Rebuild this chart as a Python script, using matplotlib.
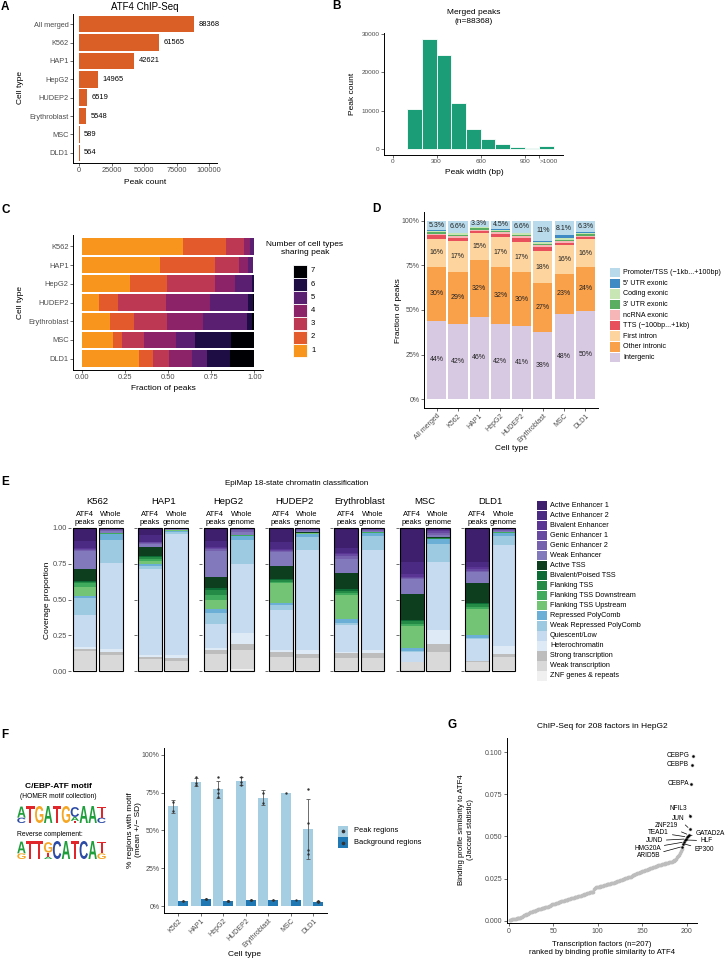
import numpy as np
import matplotlib
matplotlib.use("Agg")
import matplotlib.pyplot as plt
from matplotlib.patches import Rectangle, PathPatch
from matplotlib.textpath import TextPath
from matplotlib.font_manager import FontProperties
from matplotlib.transforms import Affine2D

plt.rcParams['font.family'] = ['Liberation Sans', 'DejaVu Sans']

# ─── data ─────────────────────────────────────────────────────────────────────
# A: peak counts
a_cells = ["All merged", "K562", "HAP1", "HepG2", "HUDEP2", "Erythroblast", "MSC", "DLD1"]
a_counts = [88368, 61565, 42621, 14965, 6519, 5548, 589, 564]

# B: peak width histogram (100 bp bins, last bin = >1000)
b_bin_left = [100, 200, 300, 400, 500, 600, 700, 800, 900, 1000]
b_counts = [10600, 28700, 24600, 12000, 5300, 2700, 1300, 650, 350, 750]

# C: fraction of peaks shared by n cell types (columns n = 1..7)
c_cells = ["K562", "HAP1", "HepG2", "HUDEP2", "Erythroblast", "MSC", "DLD1"]
c_fracs = [
    [0.585, 0.249, 0.106, 0.035, 0.020, 0.004, 0.001],
    [0.454, 0.318, 0.139, 0.050, 0.034, 0.005, 0.000],
    [0.278, 0.214, 0.280, 0.118, 0.096, 0.012, 0.002],
    [0.098, 0.114, 0.274, 0.255, 0.220, 0.029, 0.010],
    [0.164, 0.139, 0.189, 0.213, 0.251, 0.030, 0.014],
    [0.180, 0.056, 0.125, 0.185, 0.110, 0.209, 0.135],
    [0.330, 0.085, 0.091, 0.133, 0.089, 0.131, 0.141],
]

# D: genomic annotation of peaks
d_cells = a_cells
d_promoter = [0.053, 0.066, 0.033, 0.045, 0.066, 0.112, 0.081, 0.063]
d_utr5 = [0.004, 0.004, 0.003, 0.004, 0.004, 0.006, 0.016, 0.005]
d_coding = [0.008, 0.008, 0.006, 0.008, 0.008, 0.010, 0.010, 0.008]
d_utr3 = [0.007, 0.008, 0.007, 0.008, 0.008, 0.010, 0.008, 0.007]
d_ncrna = [0.009, 0.009, 0.007, 0.010, 0.010, 0.010, 0.010, 0.006]
d_tts = [0.018, 0.020, 0.012, 0.018, 0.023, 0.022, 0.013, 0.012]
d_first_intron = [0.162, 0.172, 0.152, 0.168, 0.170, 0.180, 0.158, 0.160]
d_other_intronic = [0.298, 0.290, 0.318, 0.318, 0.302, 0.272, 0.228, 0.242]
d_intergenic = [0.441, 0.423, 0.462, 0.421, 0.409, 0.378, 0.476, 0.497]

# E: EpiMap 18-state coverage, per cell [ATF4 peaks, whole genome], legend order
e_states = ["Active Enhancer 1", "Active Enhancer 2", "Bivalent Enhancer", "Genic Enhancer 1",
            "Genic Enhancer 2", "Weak Enhancer", "Active TSS", "Bivalent/Poised TSS",
            "Flanking TSS", "Flanking TSS Downstream", "Flanking TSS Upstream",
            "Repressed PolyComb", "Weak Repressed PolyComb", "Quiescent/Low",
            "Heterochromatin", "Strong transcription", "Weak transcription", "ZNF genes & repeats"]
e_cells = ["K562", "HAP1", "HepG2", "HUDEP2", "Erythroblast", "MSC", "DLD1"]
e_k562 = [[0.094, 0.046, 0.010, 0.005, 0.005, 0.126, 0.084, 0.005, 0.011, 0.024, 0.065, 0.017, 0.117, 0.226, 0.010, 0.015, 0.135, 0.005],
          [0.003, 0.004, 0.002, 0.004, 0.006, 0.014, 0.002, 0.001, 0.002, 0.002, 0.003, 0.044, 0.159, 0.597, 0.024, 0.023, 0.105, 0.005]]
e_hap1 = [[0.050, 0.045, 0.006, 0.006, 0.006, 0.022, 0.058, 0.008, 0.014, 0.014, 0.026, 0.012, 0.020, 0.600, 0.015, 0.016, 0.077, 0.005],
          [0.002, 0.002, 0.001, 0.002, 0.002, 0.004, 0.001, 0.001, 0.001, 0.001, 0.002, 0.008, 0.015, 0.848, 0.018, 0.020, 0.067, 0.005]]
e_hepg2 = [[0.094, 0.040, 0.007, 0.007, 0.010, 0.186, 0.078, 0.012, 0.034, 0.035, 0.066, 0.024, 0.079, 0.166, 0.012, 0.028, 0.117, 0.005],
           [0.003, 0.004, 0.002, 0.008, 0.012, 0.018, 0.002, 0.001, 0.002, 0.001, 0.001, 0.028, 0.168, 0.483, 0.080, 0.042, 0.133, 0.012]]
e_hudep2 = [[0.100, 0.045, 0.008, 0.007, 0.010, 0.095, 0.093, 0.008, 0.010, 0.010, 0.141, 0.012, 0.035, 0.281, 0.012, 0.035, 0.093, 0.005],
            [0.004, 0.004, 0.002, 0.006, 0.006, 0.008, 0.002, 0.001, 0.002, 0.002, 0.003, 0.020, 0.092, 0.703, 0.028, 0.023, 0.089, 0.005]]
e_eryth = [[0.142, 0.030, 0.012, 0.012, 0.020, 0.101, 0.112, 0.010, 0.015, 0.015, 0.170, 0.024, 0.015, 0.190, 0.008, 0.031, 0.088, 0.005],
           [0.004, 0.004, 0.002, 0.004, 0.005, 0.006, 0.002, 0.001, 0.002, 0.002, 0.003, 0.020, 0.099, 0.699, 0.023, 0.035, 0.084, 0.005]]
e_msc = [[0.235, 0.090, 0.015, 0.010, 0.010, 0.104, 0.179, 0.010, 0.020, 0.012, 0.156, 0.018, 0.010, 0.066, 0.000, 0.005, 0.058, 0.002],
         [0.008, 0.008, 0.003, 0.015, 0.012, 0.015, 0.006, 0.004, 0.003, 0.001, 0.002, 0.037, 0.121, 0.478, 0.098, 0.054, 0.130, 0.005]]
e_dld1 = [[0.235, 0.040, 0.014, 0.010, 0.010, 0.073, 0.140, 0.010, 0.022, 0.015, 0.179, 0.021, 0.010, 0.151, 0.000, 0.005, 0.063, 0.002],
          [0.004, 0.004, 0.002, 0.005, 0.005, 0.005, 0.002, 0.001, 0.002, 0.002, 0.003, 0.020, 0.065, 0.705, 0.056, 0.023, 0.091, 0.005]]

# F: motif logo (letter, height) stacked bottom-up, and % regions with motif
logo_fwd = [[("C", 0.30), ("A", 0.62)], [("T", 0.95)], [("G", 0.95)], [("A", 0.95)], [("T", 0.95)],
            [("G", 0.95)], [("T", 0.12), ("A", 0.22), ("C", 0.55)], [("A", 0.95)], [("A", 0.95)],
            [("C", 0.30), ("T", 0.62)]]
logo_rev = [[("G", 0.30), ("A", 0.62)], [("T", 0.95)], [("T", 0.95)], [("A", 0.12), ("T", 0.22), ("G", 0.55)],
            [("C", 0.95)], [("A", 0.95)], [("T", 0.95)], [("C", 0.95)], [("A", 0.95)],
            [("G", 0.30), ("T", 0.62)]]
f_cells = ["K562", "HAP1", "HepG2", "HUDEP2", "Erythroblast", "MSC", "DLD1"]
f_peak_reps = [[0.69, 0.63], [0.85, 0.81, 0.80], [0.85, 0.77, 0.745, 0.72], [0.855, 0.80, 0.82],
               [0.75, 0.68], [0.75], [0.77, 0.55, 0.37, 0.345]]
f_bg_reps = [[0.035, 0.033], [0.047, 0.045, 0.044], [0.036, 0.034, 0.033, 0.035], [0.040, 0.038, 0.039],
             [0.040, 0.039], [0.040], [0.030, 0.028, 0.029, 0.031]]

# G: Jaccard similarity of 207 HepG2 factors to ATF4, sorted
g_values = [
    0.0002, 0.0004, 0.0006, 0.0008, 0.0009, 0.0010, 0.0011, 0.0012, 0.0013, 0.0014,
    0.0015, 0.0016, 0.0018, 0.0020, 0.0024, 0.0030, 0.0034, 0.0035, 0.0036, 0.0038,
    0.0040, 0.0042, 0.0045, 0.0050, 0.0052, 0.0053, 0.0055, 0.0057, 0.0058, 0.0060,
    0.0062, 0.0064, 0.0066, 0.0068, 0.0069, 0.0070, 0.0072, 0.0074, 0.0076, 0.0077,
    0.0078, 0.0079, 0.0080, 0.0083, 0.0086, 0.0089, 0.0092, 0.0094, 0.0096, 0.0098,
    0.0100, 0.0101, 0.0103, 0.0105, 0.0107, 0.0109, 0.0111, 0.0112, 0.0114, 0.0116,
    0.0117, 0.0119, 0.0120, 0.0122, 0.0124, 0.0125, 0.0127, 0.0128, 0.0130, 0.0132,
    0.0133, 0.0135, 0.0136, 0.0138, 0.0139, 0.0141, 0.0142, 0.0144, 0.0146, 0.0147,
    0.0149, 0.0151, 0.0153, 0.0155, 0.0157, 0.0159, 0.0161, 0.0163, 0.0164, 0.0166,
    0.0167, 0.0168, 0.0170, 0.0171, 0.0172, 0.0185, 0.0195, 0.0198, 0.0199, 0.0200,
    0.0201, 0.0202, 0.0203, 0.0205, 0.0207, 0.0208, 0.0210, 0.0212, 0.0214, 0.0215,
    0.0216, 0.0218, 0.0219, 0.0220, 0.0221, 0.0223, 0.0225, 0.0226, 0.0228, 0.0230,
    0.0232, 0.0234, 0.0236, 0.0238, 0.0240, 0.0242, 0.0244, 0.0246, 0.0248, 0.0250,
    0.0252, 0.0254, 0.0256, 0.0258, 0.0259, 0.0260, 0.0262, 0.0265, 0.0268, 0.0270,
    0.0272, 0.0275, 0.0278, 0.0280, 0.0282, 0.0284, 0.0286, 0.0288, 0.0290, 0.0292,
    0.0294, 0.0296, 0.0298, 0.0300, 0.0302, 0.0304, 0.0306, 0.0308, 0.0310, 0.0312,
    0.0314, 0.0316, 0.0318, 0.0320, 0.0322, 0.0324, 0.0326, 0.0328, 0.0330, 0.0332,
    0.0333, 0.0334, 0.0335, 0.0336, 0.0338, 0.0340, 0.0342, 0.0344, 0.0345, 0.0347,
    0.0348, 0.0349, 0.0350, 0.0352, 0.0355, 0.0358, 0.0362, 0.0368, 0.0375, 0.0382,
    0.0392, 0.0403, 0.0412, 0.0425,
]
g_top_names = ["ARID5B", "EP300", "HMG20A", "HLF", "JUND", "TEAD1", "GATAD2A", "ZNF219",
               "JUN", "NFIL3", "CEBPA", "CEBPB", "CEBPG"]
g_top_values = [0.0440, 0.0457, 0.0467, 0.0479, 0.0485, 0.0497, 0.0505, 0.0509,
                0.0545, 0.0624, 0.0814, 0.0927, 0.0978]

# ─── layout helpers (pixel coords, origin top-left) ───────────────────────────
W, H = 727, 959
fig = plt.figure(figsize=(W / 100, H / 100), dpi=100)
TICK_C = "#4D4D4D"


def rect(x0, y0, x1, y1):
    return [x0 / W, 1 - y1 / H, (x1 - x0) / W, (y1 - y0) / H]


def fxy(x, y):
    return (x / W, 1 - y / H)


def ftext(x, y, s, **kw):
    kw.setdefault("ha", "center")
    kw.setdefault("va", "center")
    return fig.text(*fxy(x, y), s, **kw)


def style(ax, fs=5.0):
    for s in ["top", "right"]:
        ax.spines[s].set_visible(False)
    for s in ["left", "bottom"]:
        ax.spines[s].set_linewidth(0.7)
    ax.tick_params(labelsize=fs, length=2, width=0.5, pad=1.2, labelcolor=TICK_C, color="#333333")


def key_legend(x, y0, step, kw, kh, colors, labels, fs, gap=3, edge="none"):
    for i, (c, lab) in enumerate(zip(colors, labels)):
        yc = y0 + i * step
        fig.add_artist(Rectangle(fxy(x, yc + kh / 2), kw / W, kh / H, transform=fig.transFigure,
                                 fc=c, ec=edge, lw=0.6))
        ftext(x + kw + gap, yc, lab, fontsize=fs, ha="left")


def panel_letter(x, y, s):
    ftext(x, y, s, fontsize=8.5, fontweight="bold", ha="left")


# ─── A ────────────────────────────────────────────────────────────────────────
axA = fig.add_axes(rect(73, 14, 217, 163))
yA = np.arange(len(a_cells))
axA.barh(yA, a_counts, height=0.9, color="#D95F27", linewidth=0)
for y, v in zip(yA, a_counts):
    axA.annotate(str(v), (v, y), xytext=(3, 0), textcoords="offset points", va="center", fontsize=5.4)
axA.set_ylim(len(a_cells) - 0.45, -0.55)
axA.set_xlim(-4600, 106000)
axA.set_xticks([0, 25000, 50000, 75000, 100000])
axA.set_yticks(yA)
axA.set_yticklabels(a_cells)
style(axA, 5.3)
axA.set_title("ATF4 ChIP-Seq", fontsize=7, pad=3)
ftext(145, 182, "Peak count", fontsize=6)
ftext(21, 88, "Cell type", fontsize=6, rotation=90)
panel_letter(1, 7, "A")

# ─── B ────────────────────────────────────────────────────────────────────────
axB = fig.add_axes(rect(384, 33, 563, 155))
axB.bar(b_bin_left, b_counts, width=100, align="edge", color="#1B9E77", edgecolor="white", linewidth=0.6)
axB.set_xlim(-59, 1161)
axB.set_ylim(-1470, 30200)
axB.set_xticks([0, 300, 600, 900, 1000])
axB.set_xticklabels(["0", "300", "600", "900", ">1000"])
axB.get_xticklabels()[-1].set_ha("left")
axB.set_yticks([0, 10000, 20000, 30000])
style(axB, 4.6)
ftext(474, 17, "Merged peaks\n(n=88368)", fontsize=6, linespacing=1.3)
ftext(474, 172, "Peak width (bp)", fontsize=6)
ftext(352, 94, "Peak count", fontsize=6, rotation=90)
panel_letter(332, 6, "B")

# ─── C ────────────────────────────────────────────────────────────────────────
c_colors = ["#F8951D", "#E35B2D", "#BD3853", "#8C2369", "#5A1F70", "#1E0C45", "#000004"]
axC = fig.add_axes(rect(73, 235, 263, 370))
yC = np.arange(len(c_cells))
c_arr = np.array(c_fracs)
left = np.zeros(len(c_cells))
for k in range(c_arr.shape[1]):
    axC.barh(yC, c_arr[:, k], left=left, height=0.9, color=c_colors[k], linewidth=0)
    left += c_arr[:, k]
axC.set_ylim(len(c_cells) - 0.4, -0.6)
axC.set_xlim(-0.05, 1.05)
axC.set_xticks([0, 0.25, 0.5, 0.75, 1.0])
axC.set_xticklabels(["0.00", "0.25", "0.50", "0.75", "1.00"])
axC.set_yticks(yC)
axC.set_yticklabels(c_cells)
style(axC, 5.4)
ftext(163, 388, "Fraction of peaks", fontsize=6)
ftext(21, 302, "Cell type", fontsize=6, rotation=90)
ftext(305, 248.5, "Number of cell types\nsharing peak", fontsize=6, linespacing=1.25)
key_legend(293, 271, 13.2, 14, 13, c_colors[::-1], ["7", "6", "5", "4", "3", "2", "1"], 5.5,
           gap=4, edge="white")
panel_letter(1, 210, "C")

# ─── D ────────────────────────────────────────────────────────────────────────
d_layers = [d_intergenic, d_other_intronic, d_first_intron, d_tts, d_ncrna, d_utr3, d_coding, d_utr5, d_promoter]
d_colors = ["#D8C9E3", "#F9A04A", "#FDD49E", "#E8505B", "#F6B6B8", "#5AAE61", "#C7E6B4", "#3D8AC4", "#B8DAEA"]
d_labels = ["Intergenic", "Other intronic", "First intron", "TTS (\u2212100bp...+1kb)", "ncRNA exonic",
            "3' UTR exonic", "Coding exonic", "5' UTR exonic", "Promoter/TSS (\u22121kb...+100bp)"]
d_annot = {0, 1, 2, 8}
axD = fig.add_axes(rect(424, 212, 598, 408))
xD = np.arange(len(d_cells))
bottom = np.zeros(len(d_cells))
for k, (vals, col) in enumerate(zip(d_layers, d_colors)):
    vals = np.array(vals)
    axD.bar(xD, vals, bottom=bottom, width=0.9, color=col, linewidth=0)
    if k in d_annot:
        for x, b, v in zip(xD, bottom, vals):
            axD.text(x, b + v / 2, f"{v * 100:.2g}%", ha="center", va="center", fontsize=5, color="#222222")
    bottom += vals
axD.set_xlim(-0.6, len(d_cells) - 0.4)
axD.set_ylim(-0.05, 1.05)
axD.set_yticks([0, 0.25, 0.5, 0.75, 1.0])
axD.set_yticklabels(["0%", "25%", "50%", "75%", "100%"])
axD.set_xticks(xD)
axD.set_xticklabels(d_cells, rotation=45, ha="right", rotation_mode="anchor")
style(axD, 5.0)
ftext(511, 449, "Cell type", fontsize=6)
ftext(398, 311, "Fraction of peaks", fontsize=6, rotation=90)
key_legend(610, 272.7, 10.58, 10, 9.5, d_colors[::-1], d_labels[::-1], 5.1)
panel_letter(372, 209, "D")

# ─── E ────────────────────────────────────────────────────────────────────────
e_colors = ["#3D1F6D", "#4A2A83", "#5A3593", "#6849A1", "#7661AE", "#8279BC", "#0D3F1F", "#0C6A35",
            "#238B45", "#41AB5D", "#74C476", "#6BAED6", "#9ECAE1", "#C6DBEF", "#DEEBF7", "#BDBDBD",
            "#D9D9D9", "#F0F0F0"]
e_data = [e_k562, e_hap1, e_hepg2, e_hudep2, e_eryth, e_msc, e_dld1]
ftext(297, 483, "EpiMap 18-state chromatin classification", fontsize=5.8)
for i, (cell, pair) in enumerate(zip(e_cells, e_data)):
    x0 = 71.35 + 65.45 * i
    ax = fig.add_axes(rect(x0, 528, x0 + 52.6, 671))
    for j, fr in enumerate(pair):
        b = 0.0
        for v, col in zip(fr[::-1], e_colors[::-1]):
            ax.bar(j, v, bottom=b, width=0.9, color=col, linewidth=0)
            b += v
        ax.add_patch(Rectangle((j - 0.45, 0), 0.9, 1, fill=False, ec="black", lw=0.8, clip_on=False))
    ax.set_xlim(-0.5, 1.5)
    ax.set_ylim(0, 1)
    for s in ax.spines.values():
        s.set_visible(False)
    ax.set_xticks([])
    ax.set_yticks([0, 0.25, 0.5, 0.75, 1.0])
    ax.tick_params(axis="y", length=2, width=0.5, pad=1.2, labelsize=5.3, labelcolor=TICK_C, color="#333333")
    if i == 0:
        ax.set_yticklabels(["0.00", "0.25", "0.50", "0.75", "1.00"])
    else:
        ax.set_yticklabels([])
    ax.annotate(cell, xy=(0.5, 1), xycoords="axes fraction", xytext=(0, 27), textcoords="offset pixels",
                ha="center", va="center", fontsize=6.8)
    for j, lab in enumerate(["ATF4\npeaks", "Whole\ngenome"]):
        ax.annotate(lab, xy=(j, 1), xycoords=("data", "axes fraction"), xytext=(0, 9.5),
                    textcoords="offset pixels", ha="center", va="center", fontsize=5.4, linespacing=1.15)
ftext(47, 600, "Coverage proportion", fontsize=6, rotation=90)
key_legend(537, 505.3, 10.04, 10, 9.5, e_colors, e_states, 5.2)
panel_letter(1, 482, "E")

# ─── F ────────────────────────────────────────────────────────────────────────
logo_colors = {"A": "#1E9E3A", "C": "#2B4BA5", "G": "#F5A623", "T": "#E1262B"}
logo_font = FontProperties(family="Liberation Sans", weight="bold")


def draw_logo(ax, columns):
    for i, col in enumerate(columns):
        y = 0.0
        for letter, h in col:
            tp = TextPath((0, 0), letter, size=1, prop=logo_font)
            bb = tp.get_extents()
            tr = Affine2D().translate(-bb.x0, -bb.y0).scale(0.94 / bb.width, h / bb.height).translate(i + 0.03, y)
            ax.add_patch(PathPatch(tr.transform_path(tp), fc=logo_colors[letter], ec="none"))
            y += h
    ax.set_xlim(0, len(columns))
    ax.set_ylim(0, 0.95)
    ax.axis("off")


ftext(58, 787, "C/EBP-ATF motif", fontsize=6, fontweight="bold")
ftext(58, 797, "(HOMER motif collection)", fontsize=4.9)
draw_logo(fig.add_axes(rect(17, 806, 106, 823)), logo_fwd)
ftext(17, 834, "Reverse complement:", fontsize=4.9, ha="left")
draw_logo(fig.add_axes(rect(17, 841, 106, 859)), logo_rev)

axF = fig.add_axes(rect(164, 748, 327, 913))
xF = np.arange(1, len(f_cells) + 1)
for reps, off, col in [(f_peak_reps, -0.225, "#A6CEE3"), (f_bg_reps, 0.225, "#1F78B4")]:
    means = np.array([np.mean(r) for r in reps])
    sds = np.array([np.std(r, ddof=1) if len(r) > 1 else 0.0 for r in reps])
    axF.bar(xF + off, means, width=0.45, color=col, linewidth=0)
    has_sd = sds > 0
    axF.errorbar(xF[has_sd] + off, means[has_sd], yerr=sds[has_sd], fmt="none", ecolor="#555555",
                 elinewidth=0.6, capsize=1.6, capthick=0.6)
    for x, r in zip(xF, reps):
        axF.scatter([x + off] * len(r), r, s=3, color="#333333", zorder=3, linewidths=0)
axF.set_xlim(0.37, 7.61)
axF.set_ylim(-0.046, 1.044)
axF.set_yticks([0, 0.25, 0.5, 0.75, 1.0])
axF.set_yticklabels(["0%", "25%", "50%", "75%", "100%"])
axF.set_xticks(xF)
axF.set_xticklabels(f_cells, rotation=45, ha="right", rotation_mode="anchor")
style(axF, 5.0)
ftext(245, 954, "Cell type", fontsize=6)
ftext(134, 830, "% regions with motif\n(mean +/\u2212 SD)", fontsize=6, rotation=90, linespacing=1.2)
key_legend(338, 831, 11.7, 10, 11, ["#A6CEE3", "#1F78B4"], ["Peak regions", "Background regions"], 5.4, gap=6)
for yk in (831, 842.7):
    fig.add_artist(plt.Line2D([fxy(343, yk)[0]], [fxy(343, yk)[1]], marker="o", ms=1.6, color="#333333",
                              transform=fig.transFigure))
panel_letter(1, 735, "F")

# ─── G ────────────────────────────────────────────────────────────────────────
axG = fig.add_axes(rect(506.7, 738.3, 697.3, 923.3))
all_vals = g_values + g_top_values
ranks = np.arange(1, len(all_vals) + 1)
axG.scatter(ranks, all_vals, s=7, color="#BDBDBD", linewidths=0)
top_ranks = ranks[len(g_values):]
axG.scatter(top_ranks, g_top_values, s=3, color="black", linewidths=0, zorder=3)
# label offsets in pixels (dx, dy, ha); labels set right of the point get no connector
g_offsets = {
    "ARID5B": (-34, -9.3, "center"), "EP300": (20.7, -5.7, "center"), "HMG20A": (-36.7, -6.3, "center"),
    "HLF": (21, -0.7, "center"), "JUND": (-31.7, -1.7, "center"), "TEAD1": (-28.3, 4.3, "center"),
    "GATAD2A": (22.5, 1.7, "center"), "ZNF219": (-22.3, 9.3, "center"), "JUN": (-11.7, 10.7, "center"),
    "NFIL3": (-12, 7.3, "center"), "CEBPA": (-2.5, 0, "right"), "CEBPB": (-3, 0, "right"),
    "CEBPG": (-3.5, 0, "right"),
}
for name, r, v in zip(g_top_names, top_ranks, g_top_values):
    dx, dy, ha = g_offsets[name]
    arrow = None if ha == "right" else dict(arrowstyle="-", lw=0.5, color="black", shrinkA=0.5, shrinkB=1.5)
    axG.annotate(name, (r, v), xytext=(dx, dy), textcoords="offset pixels", ha=ha, va="center",
                 fontsize=4.7, arrowprops=arrow, annotation_clip=False)
axG.set_xlim(-2.2, 211.7)
axG.set_ylim(-0.0016, 0.1083)
axG.set_xticks([0, 50, 100, 150, 200])
axG.set_yticks([0, 0.025, 0.05, 0.075, 0.1])
axG.set_yticklabels(["0.000", "0.025", "0.050", "0.075", "0.100"])
style(axG, 5.0)
ftext(602, 727, "ChIP-Seq for 208 factors in HepG2", fontsize=6)
ftext(602, 948.5, "Transcription factors (n=207)\nranked by binding profile similarity to ATF4",
      fontsize=5.6, linespacing=1.35)
ftext(466, 830, "Binding profile similarity to ATF4\n(Jaccard statistic)", fontsize=5.6,
      rotation=90, linespacing=1.3)
panel_letter(448, 725, "G")

fig.savefig("out.png", dpi=100)
